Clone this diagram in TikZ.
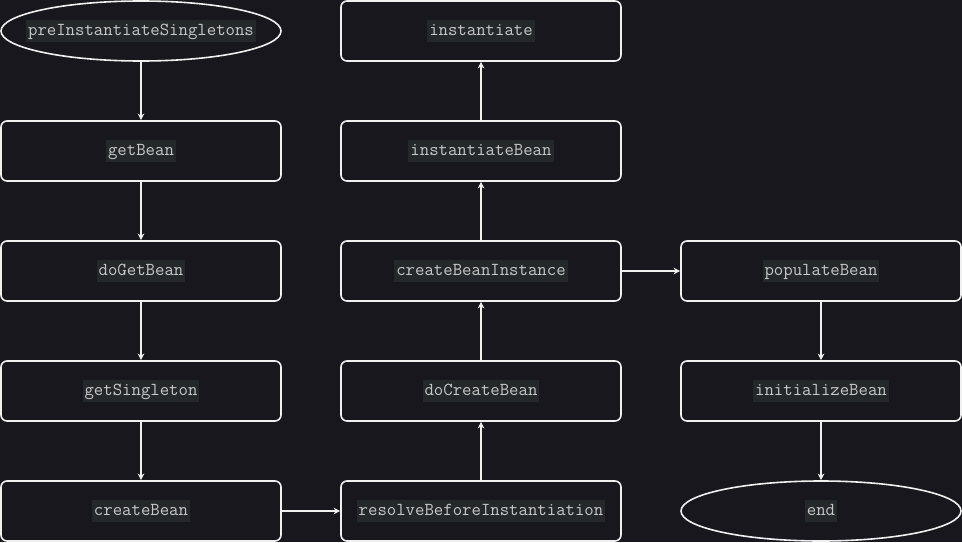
\documentclass[tikz,border=0pt]{standalone}
\usetikzlibrary{positioning,shapes.geometric,arrows.meta}
\definecolor{bgdark}{HTML}{18171E}
\definecolor{edgewhite}{HTML}{F0F0F0}
\definecolor{txtgray}{HTML}{C8C8C8}
\definecolor{hlgray}{HTML}{25282B}
\newcommand{\fn}[1]{{\setlength{\fboxsep}{1.5pt}\colorbox{hlgray}{\rule[-3.5pt]{0pt}{14pt}#1}}}

\begin{document}
\begin{tikzpicture}[x=0.75pt,y=0.75pt,node distance=43.8pt]
            \tikzstyle{every node}=[font=\ttfamily\fontsize{13.7}{15}\selectfont, text=txtgray];
            \tikzstyle{stepbox}=[draw=edgewhite, line width=1.2pt, rounded corners=4.5pt, minimum width=210pt, minimum height=45pt, inner sep=0pt];
            \tikzstyle{terminal}=[draw=edgewhite, line width=1.2pt, ellipse, minimum width=210pt, minimum height=45pt, inner xsep=-25pt, inner ysep=0pt];
            \tikzstyle{flow}=[draw=edgewhite, line width=0.8pt, -{Stealth[length=5pt,width=5pt]}];
            \fill[bgdark] (0,0) rectangle (962,-542);
            \useasboundingbox (0,0) rectangle (962,-542);
            \node[terminal] (pre) at (141,-31) {\fn{preInstantiateSingletons}};
            \node[stepbox, below=of pre] (getbean) {\fn{getBean}};
            \node[stepbox, below=of getbean] (dogetbean) {\fn{doGetBean}};
            \node[stepbox, below=of dogetbean] (getsingleton) {\fn{getSingleton}};
            \node[stepbox, below=of getsingleton] (createbean) {\fn{createBean}};
            \node[stepbox, right=of createbean] (resolve) {\fn{resolveBeforeInstantiation}};
            \node[stepbox, above=of resolve] (docreate) {\fn{doCreateBean}};
            \node[stepbox, above=of docreate] (instance) {\fn{createBeanInstance}};
            \node[stepbox, above=of instance] (instbean) {\fn{instantiateBean}};
            \node[stepbox, above=of instbean] (inst) {\fn{instantiate}};
            \node[stepbox, right=of instance] (populate) {\fn{populateBean}};
            \node[stepbox, below=of populate] (init) {\fn{initializeBean}};
            \node[terminal, below=of init] (end) {\fn{end}};
            \path[flow] (pre) -- (getbean);
            \path[flow] (getbean) -- (dogetbean);
            \path[flow] (dogetbean) -- (getsingleton);
            \path[flow] (getsingleton) -- (createbean);
            \path[flow] (createbean) -- (resolve);
            \path[flow] (resolve) -- (docreate);
            \path[flow] (docreate) -- (instance);
            \path[flow] (instance) -- (instbean);
            \path[flow] (instbean) -- (inst);
            \path[flow] (instance) -- (populate);
            \path[flow] (populate) -- (init);
            \path[flow] (init) -- (end);
        \end{tikzpicture}
\end{document}
